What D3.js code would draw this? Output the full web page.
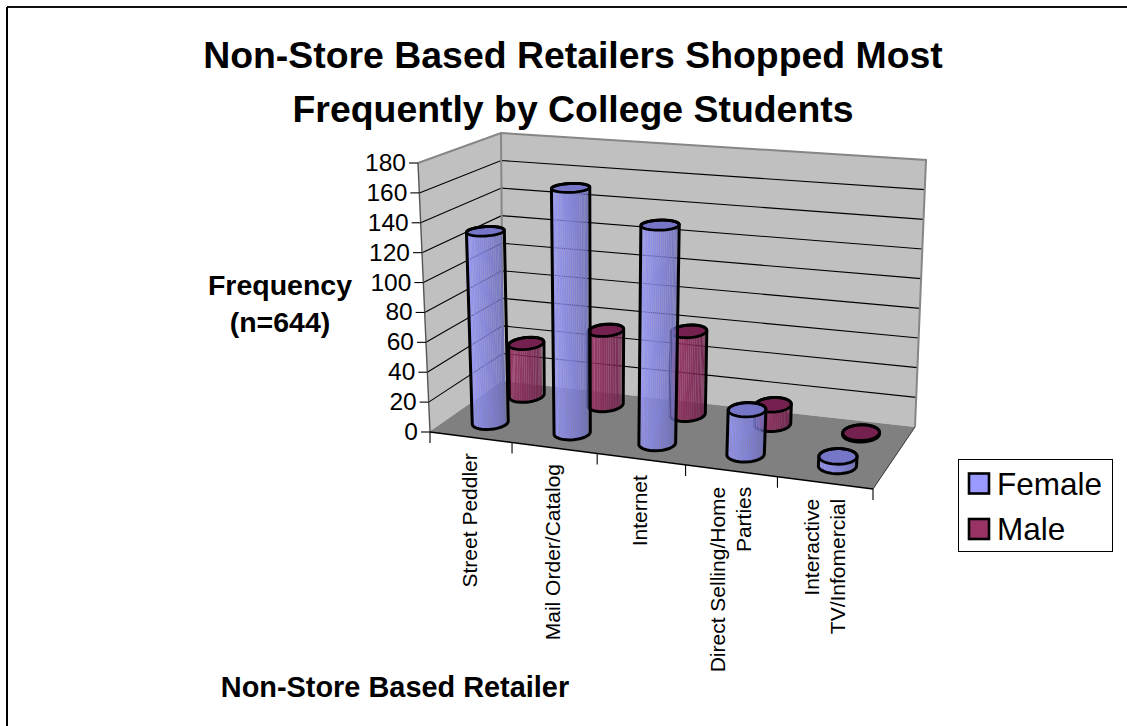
<!DOCTYPE html>
<html>
<head>
<meta charset="utf-8">
<script src="https://cdnjs.cloudflare.com/ajax/libs/d3/7.8.5/d3.min.js"></script>
<style>
html,body{margin:0;padding:0;background:#fff}
svg{display:block}
text{font-family:"Liberation Sans",Arial,sans-serif;fill:#000}
</style>
</head>
<body>
<svg id="chart" width="1127" height="726"></svg>
<script>
const categories = ["Street Peddler","Mail Order/Catalog","Internet","Direct Selling/Home|Parties","Interactive|TV/Infomercial"];
const seriesNames = ["Female","Male"];
const female = [130,164,144,29,6];
const male = [37,52,57,13,1];
const valueTicks = [0,20,40,60,80,100,120,140,160,180];
const titleLines = ["Non-Store Based Retailers Shopped Most","Frequently by College Students"];
const yTitleLines = ["Frequency","(n=644)"];
const xTitle = "Non-Store Based Retailer";

const svg = d3.select("#chart");
const W = 1127, H = 726;

// Corners of the 3D plot box on screen
const box = {
  flb:[430,432], frb:[873,489], blb:[503,381], brb:[915,427],
  flt:[418,163], frt:[893,199], blt:[501,133], brt:[926,160]
};
const lerp = (a,b,t)=>a+(b-a)*t;
const perspective = 1.1; // foreshortening along the category axis
const warp = u => u/(u+perspective*(1-u));

// Three scales feed the box: category across, series in depth, value upward
const xBand = d3.scaleBand().domain(d3.range(categories.length)).range([0,1]);
const depth = d3.scaleOrdinal().domain(seriesNames).range([0.28,0.8]);
const valueScale = d3.scaleLinear().domain([0,180]).range([0,1]);

function project(u,v,w){
  const U = warp(u);
  const corner = k => {
    const b0 = [lerp(box.flb[k],box.frb[k],U), lerp(box.blb[k],box.brb[k],U)];
    const t0 = [lerp(box.flt[k],box.frt[k],U), lerp(box.blt[k],box.brt[k],U)];
    return lerp(lerp(b0[0],b0[1],v), lerp(t0[0],t0[1],v), w);
  };
  return [corner(0),corner(1)];
}
const poly = pts => "M"+pts.map(p=>p[0].toFixed(2)+","+p[1].toFixed(2)).join("L")+"Z";
const seg = (g,a,b,stroke,sw)=>g.append("line").attr("x1",a[0]).attr("y1",a[1]).attr("x2",b[0]).attr("y2",b[1]).attr("stroke",stroke).attr("stroke-width",sw);

// Frame of the chart area: only its top and left edges fall inside the page
seg(svg,[7,7],[W,7],"#111",2);
seg(svg,[7,7],[7,H],"#000",2);

// Title
svg.append("g").selectAll("text").data(titleLines).join("text")
  .attr("x",573).attr("y",(d,i)=>68+i*53.5).attr("text-anchor","middle")
  .attr("font-size",37.4).attr("font-weight","bold").text(d=>d);

// Walls and floor
const plot = svg.append("g");
plot.append("path").attr("d",poly([box.flb,box.flt,box.blt,box.blb])).attr("fill","#c0c0c0");
plot.append("path").attr("d",poly([box.blb,box.blt,box.brt,box.brb])).attr("fill","#c0c0c0");
plot.append("path").attr("d",poly([box.flb,box.blb,box.brb,box.frb])).attr("fill","#808080");

// Gridlines across both walls, skipping the baseline
valueTicks.filter(t=>t>0 && t<180).forEach(t=>{
  const w = valueScale(t);
  const a = project(0,0,w), b = project(0,1,w), c = project(1,1,w);
  plot.append("path").attr("d",`M${a}L${b}L${c}`).attr("fill","none").attr("stroke","#000").attr("stroke-width",1.1);
});

// Wall outlines
plot.append("path").attr("d",`M${box.flt}L${box.blt}L${box.brt}L${box.brb}`).attr("fill","none").attr("stroke","#868686").attr("stroke-width",2);
seg(plot,box.blt,box.blb,"#868686",2);
seg(plot,box.flb,box.blb,"#808080",1);
seg(plot,box.brb,box.frb,"#333",1);

// Value axis
seg(plot,box.flt,box.flb,"#555",1.4);
valueTicks.forEach(t=>{
  const p = project(0,0,valueScale(t));
  seg(plot,[p[0]-9,p[1]],p,"#000",1.1);
  plot.append("text").attr("x",p[0]-12).attr("y",p[1]+8).attr("text-anchor","end").attr("font-size",24.5).text(t);
});

// Category axis with ticks and rotated labels
seg(plot,box.flb,box.frb,"#000",1.6);
d3.range(categories.length+1).forEach(i=>{
  const p = project(i/categories.length,0,0);
  seg(plot,p,[p[0],p[1]+11],"#000",1.1);
});
categories.forEach((c,i)=>{
  const p = project(xBand(i)+xBand.bandwidth()/2,0,0);
  const lines = c.split("|");
  const t = plot.append("text").attr("text-anchor","end").attr("font-size",21)
    .attr("transform",`translate(${p[0]-(lines.length>1?0:1)},${p[1]+16}) rotate(-90)`);
  lines.forEach((l,j)=>t.append("tspan").attr("x",0).attr("y",(j-(lines.length-1)/2)*26+7).text(l));
});

// Cylinders: a faceted, slightly see-through side wall, then the cap
function facetColor(ramp,t){ return d3.interpolateRgbBasis(ramp)(t); }
const ramps = {
  Female:{side:["#9e9eff","#9494f4","#8080d8","#6e6eba"],cap:"#7676c8"},
  Male:{side:["#a23468","#98325f","#85295a","#6d1f47"],cap:"#74214f"}
};
const radiusU = 0.039, radiusV = 0.125;

function drawCylinder(g,catIndex,name,value){
  const cu = xBand(catIndex)+xBand.bandwidth()/2, cv = depth(name), w = valueScale(value);
  const ring = (th,height)=>project(cu+radiusU*Math.cos(th),cv+radiusV*Math.sin(th),height);
  const N = 36;
  const angles = d3.range(N+1).map(i=>i/N*2*Math.PI);
  const hull = d3.polygonHull(angles.flatMap(a=>[ring(a,0),ring(a,w)]));
  // Front half of the circle, left to right; each strip is one facet
  const steps = 30;
  const cyl = g.append("g");
  d3.range(steps).forEach(i=>{
    const a0 = Math.PI - i/steps*Math.PI, a1 = Math.PI-(i+1)/steps*Math.PI;
    // v decreases toward the viewer, so the front half has negative sin
    const p = [ring(-a0,0),ring(-a1,0),ring(-a1,w),ring(-a0,w)];
    cyl.append("path").attr("d",poly(p)).attr("fill",facetColor(ramps[name].side,i/(steps-1))).attr("fill-opacity",0.92);
  });
  cyl.append("path").attr("d",poly(angles.map(a=>ring(a,w)))).attr("fill",ramps[name].cap);
  cyl.append("path").attr("d",poly(hull)).attr("fill","none").attr("stroke","#000").attr("stroke-width",3).attr("stroke-linejoin","round");
  cyl.append("path").attr("d",poly(angles.map(a=>ring(a,w)))).attr("fill","none").attr("stroke","#000").attr("stroke-width",2.8);
}
const bars = svg.append("g");
male.forEach((v,i)=>drawCylinder(bars,i,"Male",v));
female.forEach((v,i)=>drawCylinder(bars,i,"Female",v));

// Axis titles
svg.append("g").selectAll("text").data(yTitleLines).join("text")
  .attr("x",280).attr("y",(d,i)=>295+i*37).attr("text-anchor","middle")
  .attr("font-size",28.5).attr("font-weight","bold").text(d=>d);
svg.append("text").attr("x",395).attr("y",697).attr("text-anchor","middle")
  .attr("font-size",28.9).attr("font-weight","bold").text(xTitle);

// Legend
const legend = svg.append("g");
legend.append("rect").attr("x",958.5).attr("y",459.5).attr("width",154).attr("height",92).attr("fill","#fff").attr("stroke","#000").attr("stroke-width",1);
const legendColors = d3.scaleOrdinal().domain(seriesNames).range(["#9999ff","#993366"]);
seriesNames.forEach((s,i)=>{
  const y = 473+i*45.5;
  legend.append("rect").attr("x",969).attr("y",y+0.5).attr("width",20).attr("height",20).attr("fill",legendColors(s)).attr("stroke","#000").attr("stroke-width",2.6);
  legend.append("text").attr("x",997).attr("y",y+21.5).attr("font-size",31.5).text(s);
});
</script>
</body>
</html>
